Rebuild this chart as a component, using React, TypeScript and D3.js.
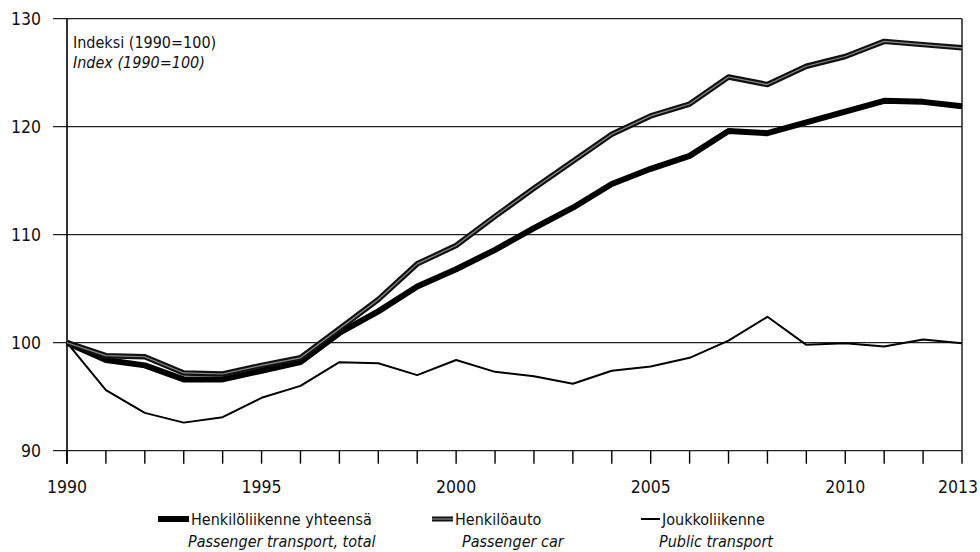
import * as d3 from 'd3'

const years = d3.range(1990, 2014)
const total = [100, 98.4, 97.9, 96.6, 96.6, 97.4, 98.2, 100.9, 102.9, 105.2, 106.8, 108.6, 110.6, 112.5, 114.7, 116.1, 117.3, 119.6, 119.4, 120.4, 121.4, 122.4, 122.3, 121.9]
const car = [100, 98.8, 98.7, 97.2, 97.1, 97.9, 98.6, 101.3, 104.0, 107.3, 109.0, 111.7, 114.3, 116.8, 119.3, 121.0, 122.1, 124.6, 123.9, 125.6, 126.5, 127.9, 127.6, 127.3]
const publicTr = [100, 95.6, 93.5, 92.6, 93.1, 94.9, 96.0, 98.2, 98.1, 97.0, 98.4, 97.3, 96.9, 96.2, 97.4, 97.8, 98.6, 100.2, 102.4, 99.8, 99.95, 99.65, 100.3, 99.95]
const yTicks = [90, 100, 110, 120, 130]
const xLabels = [1990, 1995, 2000, 2005, 2010, 2013]

const font = "'Liberation Sans Narrow', 'DejaVu Sans Condensed', Roboto, sans-serif"

export default function App() {
  const W = 980
  const H = 552
  const x = d3.scaleLinear().domain([1990, 2013]).range([67, 962])
  const y = d3.scaleLinear().domain([90, 130]).range([450.7, 18.7])
  const line = d3.line<number>().x((d, i) => x(years[i])).y(d => y(d))

  return (
    <svg width={W} height={H} style={{ position: 'absolute', left: 0, top: 0, background: '#fff' }} fontFamily={font}>
      {/* gridlines + y ticks */}
      {yTicks.map(t => (
        <g key={t}>
          <line x1={53} x2={x(2013)} y1={y(t)} y2={y(t)} stroke='#222' strokeWidth={1.2} />
          <text x={41} y={y(t)} dy='0.35em' textAnchor='end' fontSize={17.5} fill='#111'>{t}</text>
        </g>
      ))}
      {/* axes */}
      <line x1={x(1990)} x2={x(1990)} y1={y(130)} y2={y(90) + 13} stroke='#000' strokeWidth={1.6} />
      <line x1={x(2013)} x2={x(2013)} y1={y(130)} y2={y(90)} stroke='#000' strokeWidth={1.3} />
      {years.map(yr => (
        <line key={yr} x1={x(yr)} x2={x(yr)} y1={y(90)} y2={y(90) + 13} stroke='#000' strokeWidth={1.4} />
      ))}
      {xLabels.map(yr => {
        const last = yr === 2013
        return (
          <text key={yr} x={last ? 978 : x(yr)} y={493} textAnchor={last ? 'end' : 'middle'} fontSize={17.5} fill='#111'>{yr}</text>
        )
      })}
      <text x={73} y={48} fontSize={16} fill='#111'>Indeksi (1990=100)</text>
      <text x={73} y={68} fontSize={16} fontStyle='italic' fill='#111'>Index (1990=100)</text>

      {/* series */}
      <path d={line(publicTr) ?? ''} fill='none' stroke='#000' strokeWidth={2} strokeLinejoin='round' />
      <path d={line(total) ?? ''} fill='none' stroke='#000' strokeWidth={6} strokeLinejoin='round' />
      <path d={line(car) ?? ''} fill='none' stroke='#111' strokeWidth={5.5} strokeLinejoin='round' />
      <path d={line(car) ?? ''} fill='none' stroke='#8a8a8a' strokeWidth={1.2} strokeLinejoin='round' />

      {/* legend */}
      <line x1={158} x2={189} y1={519} y2={519} stroke='#000' strokeWidth={6} />
      <text x={191} y={525} fontSize={16} fill='#111'>Henkilöliikenne yhteensä</text>
      <text x={188} y={547} fontSize={16} fontStyle='italic' fill='#111'>Passenger transport, total</text>

      <line x1={432} x2={453} y1={519} y2={519} stroke='#111' strokeWidth={5} />
      <line x1={432} x2={453} y1={519} y2={519} stroke='#8a8a8a' strokeWidth={1.2} />
      <text x={455} y={525} fontSize={16} fill='#111'>Henkilöauto</text>
      <text x={462} y={547} fontSize={16} fontStyle='italic' fill='#111'>Passenger car</text>

      <line x1={641} x2={660} y1={519} y2={519} stroke='#000' strokeWidth={2} />
      <text x={662} y={525} fontSize={16} fill='#111'>Joukkoliikenne</text>
      <text x={659} y={547} fontSize={16} fontStyle='italic' fill='#111'>Public transport</text>
    </svg>
  )
}
